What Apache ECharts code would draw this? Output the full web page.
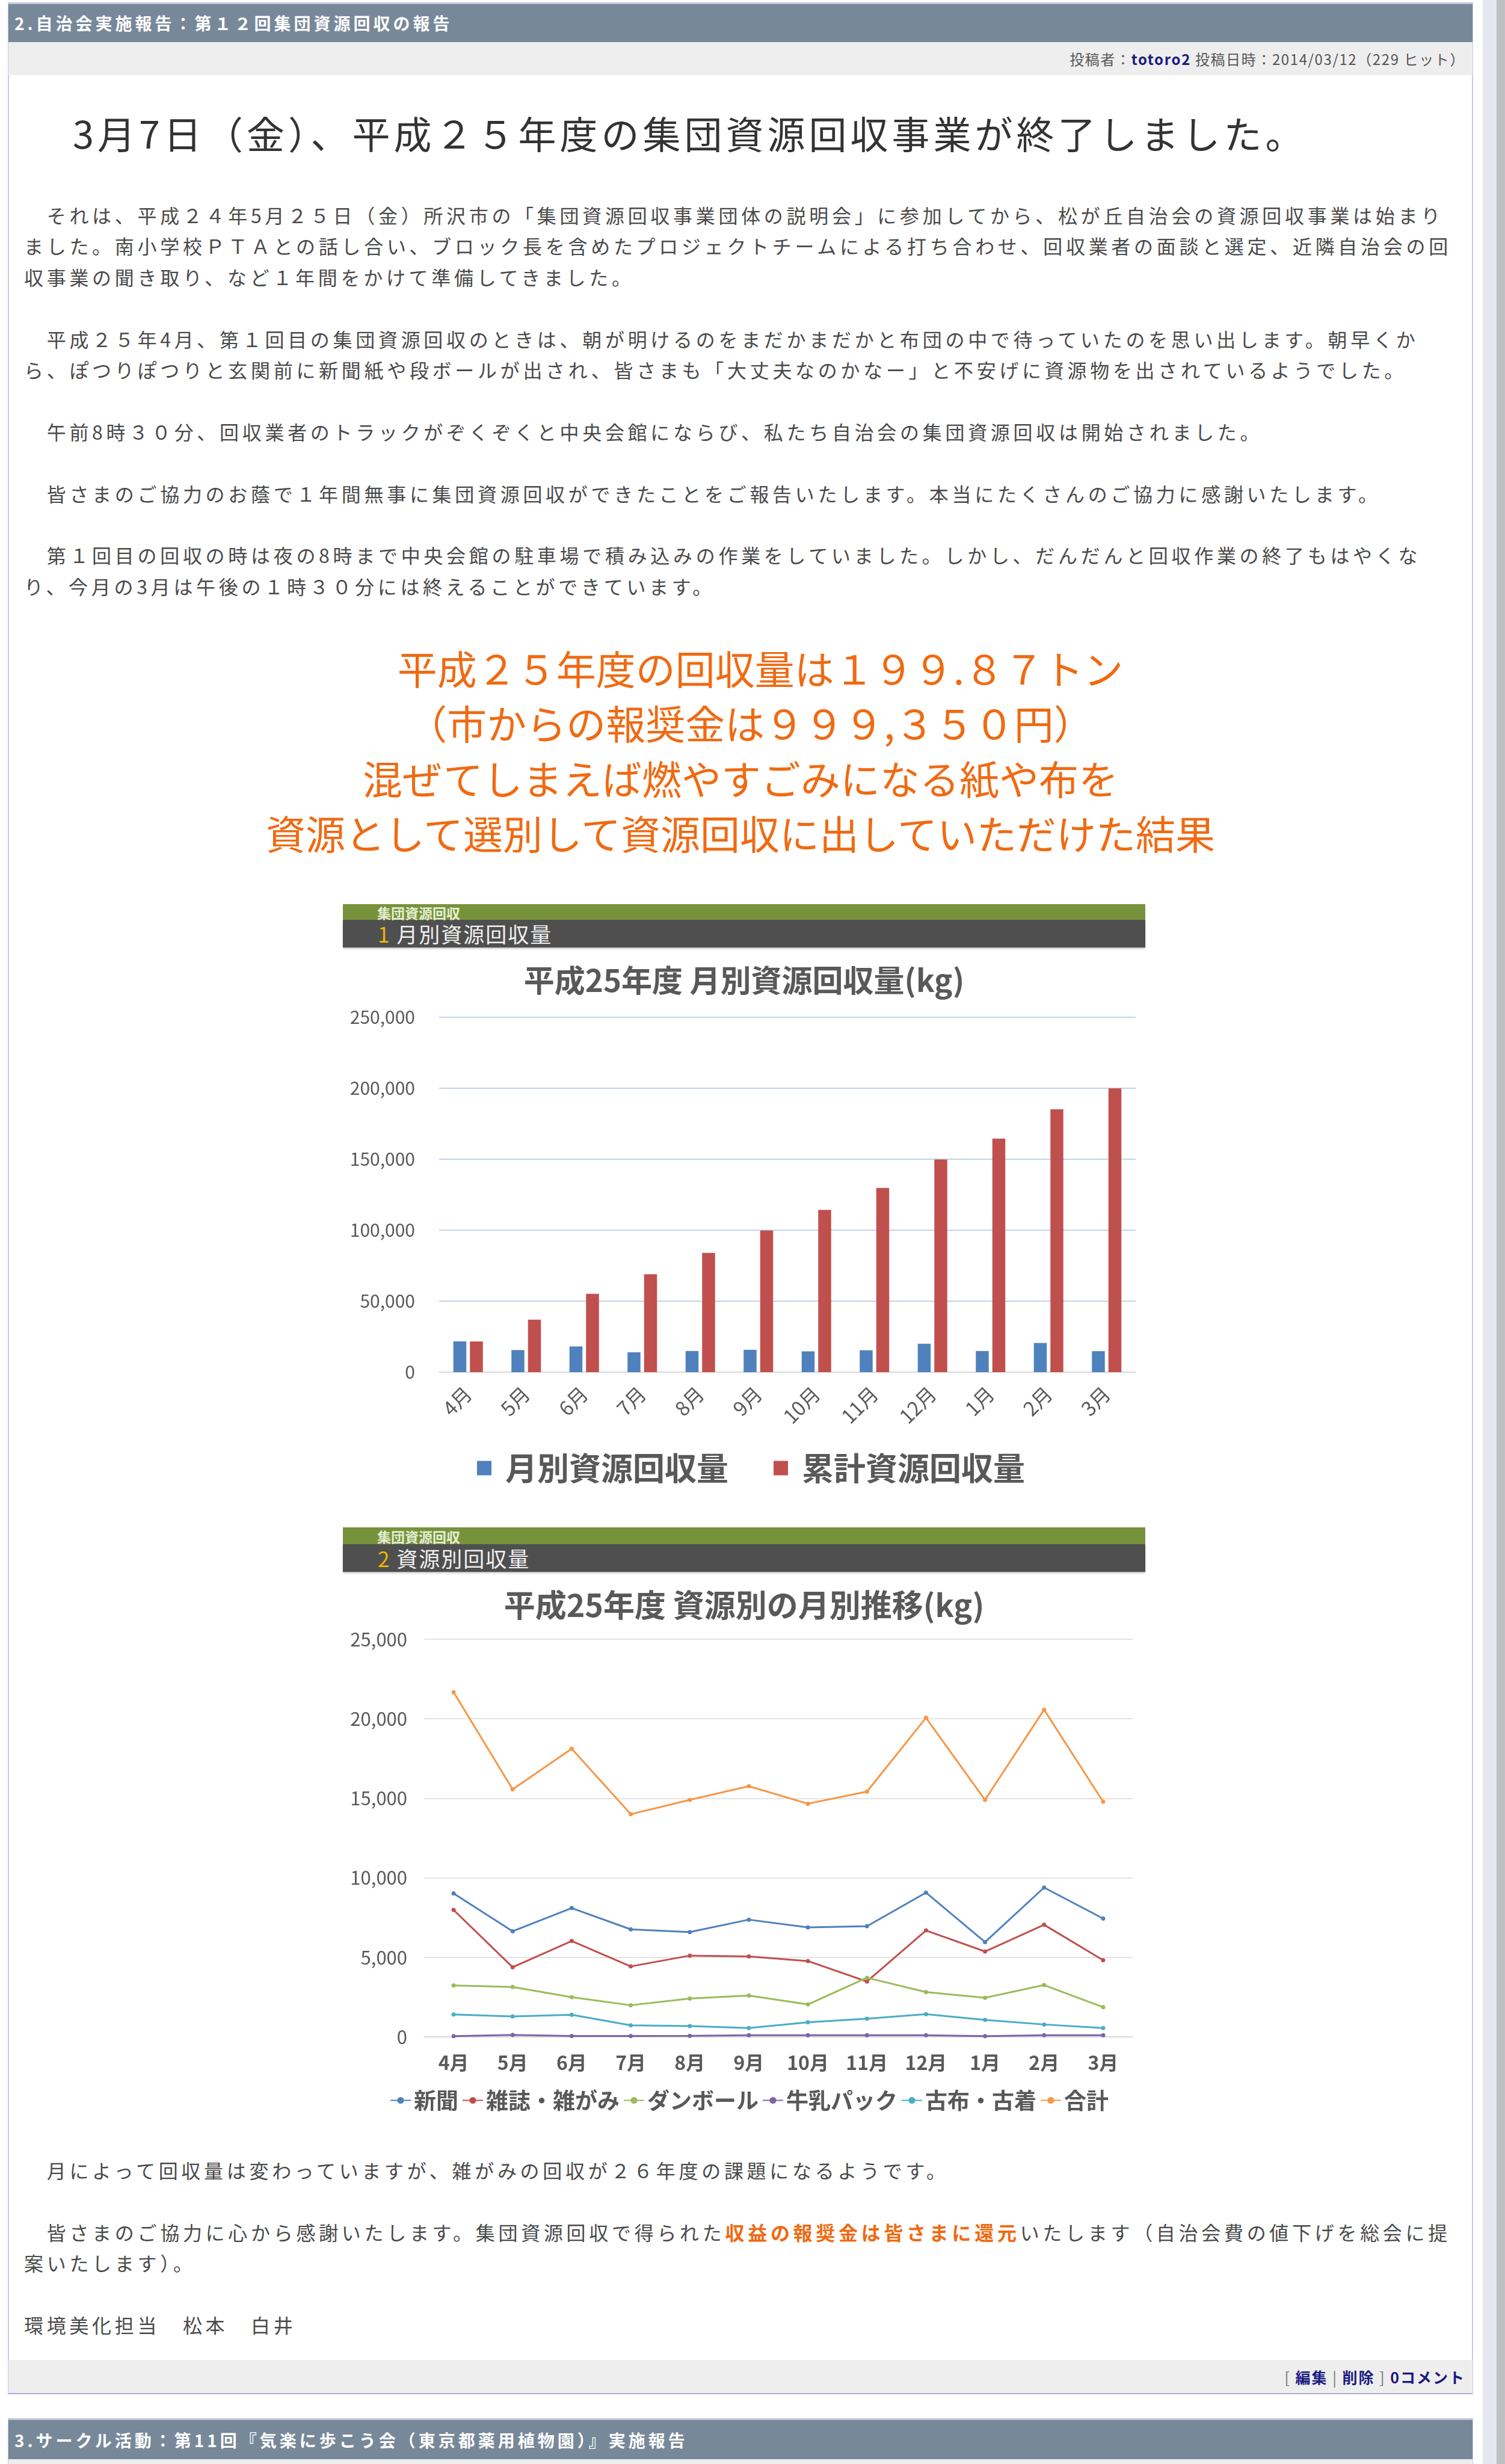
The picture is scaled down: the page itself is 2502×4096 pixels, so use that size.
<!DOCTYPE html>
<html lang="ja">
<head>
<meta charset="utf-8">
<title>第１２回集団資源回収の報告</title>
<script src="https://cdn.jsdelivr.net/npm/echarts@6/dist/echarts.min.js"></script>
<style>
html, body { margin: 0; padding: 0; background: #fff; }
body { width: 2502px; height: 4096px; position: relative; overflow: hidden; font-family: "Noto Sans CJK JP", sans-serif; }
.abs { position: absolute; }
.hdr { position: absolute; left: 14px; width: 2434px; background: #778899; border-top: 3px solid #bfc3de; color: #fff; font-weight: bold; font-size: 28px; letter-spacing: 5px; box-sizing: border-box; padding-left: 10px; white-space: nowrap; }
.row { position: absolute; left: 14px; width: 2434px; background: #eeeeee; box-sizing: border-box; text-align: right; padding-right: 12px; white-space: nowrap; }
.side { position: absolute; width: 2px; background: #c8c8e6; }
.txt { position: absolute; left: 40px; font-size: 32px; letter-spacing: 5.7px; color: #4a4a4a; }
.txt div { height: 51.4px; line-height: 51.4px; white-space: nowrap; }
.big { position: absolute; left: 14px; width: 2434px; text-align: center; font-size: 66px; line-height: 91.3px; color: #f06a12; }
.big div { white-space: nowrap; }
.chartbox { position: absolute; left: 570px; width: 1334px; background: #fff; }
.bandg { position: absolute; left: 0; top: 0; width: 1334px; background: #76933c; }
.bandd { position: absolute; left: 0; width: 1334px; background: #4f4f4f; box-shadow: 0 2px 3px rgba(0,0,0,0.25); }
.bandsmall { position: absolute; left: 57px; font-size: 23px; font-weight: bold; color: #e4eed2; white-space: nowrap; }
.bandbig { position: absolute; left: 58px; font-size: 35px; color: #f0f0f0; letter-spacing: 2px; white-space: nowrap; }
.bandbig span { color: #f2b400; }
</style>
</head>
<body>

<div class="abs" style="left:2465px;top:0;width:37px;height:4096px;background:#e6e6ee;"></div>
<div class="abs" style="left:2488px;top:0;width:14px;height:4096px;background:#c0c0c4;"></div>

<div class="side" style="left:13px;top:4px;height:3976px;"></div>
<div class="side" style="left:2447px;top:4px;height:3976px;"></div>

<div class="hdr" style="top:4px;height:66px;line-height:63px;">2.自治会実施報告：第１２回集団資源回収の報告</div>
<div class="row" style="top:70px;height:55px;line-height:55px;font-size:24px;letter-spacing:1.6px;color:#555;">投稿者：<b style="color:#1a1a80;">totoro2</b> 投稿日時：2014/03/12（229 ヒット）</div>

<div class="abs" style="left:121px;top:180px;font-size:63px;letter-spacing:6px;line-height:80px;color:#333;white-space:nowrap;">3月7日（金）、平成２５年度の集団資源回収事業が終了しました。</div>

<div class="txt" style="top:332px;">
<div>　それは、平成２４年5月２５日（金）所沢市の「集団資源回収事業団体の説明会」に参加してから、松が丘自治会の資源回収事業は始まり</div>
<div>ました。南小学校ＰＴＡとの話し合い、ブロック長を含めたプロジェクトチームによる打ち合わせ、回収業者の面談と選定、近隣自治会の回</div>
<div>収事業の聞き取り、など１年間をかけて準備してきました。</div>
<div></div>
<div>　平成２５年4月、第１回目の集団資源回収のときは、朝が明けるのをまだかまだかと布団の中で待っていたのを思い出します。朝早くか</div>
<div>ら、ぽつりぽつりと玄関前に新聞紙や段ボールが出され、皆さまも「大丈夫なのかなー」と不安げに資源物を出されているようでした。</div>
<div></div>
<div>　午前8時３０分、回収業者のトラックがぞくぞくと中央会館にならび、私たち自治会の集団資源回収は開始されました。</div>
<div></div>
<div>　皆さまのご協力のお蔭で１年間無事に集団資源回収ができたことをご報告いたします。本当にたくさんのご協力に感謝いたします。</div>
<div></div>
<div>　第１回目の回収の時は夜の8時まで中央会館の駐車場で積み込みの作業をしていました。しかし、だんだんと回収作業の終了もはやくな</div>
<div>り、今月の3月は午後の１時３０分には終えることができています。</div>
</div>

<div class="big" style="top:1064px;">
<div>　平成２５年度の回収量は１９９.８７トン</div>
<div>　（市からの報奨金は９９９,３５０円）</div>
<div>混ぜてしまえば燃やすごみになる紙や布を</div>
<div>資源として選別して資源回収に出していただけた結果</div>
</div>

<div class="chartbox" style="top:1503px;height:984px;">
  <div class="bandg" style="height:26px;"></div>
  <div class="bandd" style="top:26px;height:46px;"></div>
  <div class="bandsmall" style="top:0;line-height:28px;">集団資源回収</div>
  <div class="bandbig" style="top:26px;line-height:46px;"><span>1</span> 月別資源回収量</div>
  <div id="chart1" class="abs" style="left:0;top:72px;width:1334px;height:912px;"></div>
</div>

<div class="chartbox" style="top:2539px;height:979px;">
  <div class="bandg" style="height:28px;"></div>
  <div class="bandd" style="top:28px;height:46px;"></div>
  <div class="bandsmall" style="top:0;line-height:30px;">集団資源回収</div>
  <div class="bandbig" style="top:28px;line-height:46px;"><span>2</span> 資源別回収量</div>
  <div id="chart2" class="abs" style="left:0;top:74px;width:1334px;height:905px;"></div>
</div>

<div class="txt" style="top:3582px;">
<div>　月によって回収量は変わっていますが、雑がみの回収が２６年度の課題になるようです。</div>
<div></div>
<div>　皆さまのご協力に心から感謝いたします。集団資源回収で得られた<b style="color:#f06a12;">収益の報奨金は皆さまに還元</b>いたします（自治会費の値下げを総会に提</div>
<div>案いたします）。</div>
<div></div>
<div>環境美化担当　松本　白井</div>
</div>

<div class="row" style="top:3923px;height:57px;line-height:57px;font-size:25px;letter-spacing:2px;color:#777;border-bottom:2px solid #a9abd6;">[ <b style="color:#1a1a80;">編集</b> | <b style="color:#1a1a80;">削除</b> ] <b style="color:#1a1a80;">0コメント</b></div>

<div class="side" style="left:13px;top:4020px;height:76px;"></div>
<div class="side" style="left:2447px;top:4020px;height:76px;"></div>
<div class="hdr" style="top:4020px;height:68px;line-height:66px;">3.サークル活動：第11回『気楽に歩こう会（東京都薬用植物園）』実施報告</div>
<div class="row" style="top:4088px;height:8px;"></div>

<script>
// 月
const months = ['4月', '5月', '6月', '7月', '8月', '9月', '10月', '11月', '12月', '1月', '2月', '3月'];

// グラフ1 月別・累計 (kg)
const barNames = ['月別資源回収量', '累計資源回収量'];
const monthlyKg = [21670, 15560, 18120, 14000, 14900, 15760, 14660, 15420, 20060, 14900, 20570, 14790];
const cumulativeKg = [21600, 37000, 55200, 69000, 84000, 99800, 114300, 129800, 149800, 164500, 185200, 199870];

// グラフ2 資源別 (kg)
const lineNames = ['新聞', '雑誌・雑がみ', 'ダンボール', '牛乳パック', '古布・古着', '合計'];
const newspaperKg = [9020, 6640, 8100, 6760, 6590, 7370, 6880, 6960, 9070, 5960, 9390, 7440];
const magazineKg = [7980, 4380, 6030, 4430, 5110, 5060, 4770, 3480, 6690, 5370, 7050, 4820];
const cardboardKg = [3230, 3140, 2500, 1990, 2410, 2600, 2040, 3720, 2820, 2460, 3260, 1870];
const milkPackKg = [50, 120, 60, 60, 70, 100, 100, 100, 100, 50, 100, 100];
const clothKg = [1410, 1290, 1390, 730, 680, 560, 920, 1140, 1430, 1070, 780, 560];
const totalKg = [21670, 15560, 18120, 14000, 14900, 15760, 14660, 15420, 20060, 14900, 20570, 14790];

const lineColors = ['#4f81bd', '#c0504d', '#9bbb59', '#8064a2', '#4bacc6', '#f79646'];
const font = 'Noto Sans CJK JP';
const gray = '#595959';
const commas = v => String(v).replace(/\B(?=(\d{3})+(?!\d))/g, ',');

const chart1 = echarts.init(document.getElementById('chart1'));
chart1.setOption({
    animation: false,
    textStyle: { fontFamily: font },
    title: {
        text: '平成25年度 月別資源回収量(kg)',
        left: 'center',
        top: 24,
        textStyle: { fontSize: 51, fontWeight: 'bold', color: gray, fontFamily: font }
    },
    legend: {
        data: barNames,
        left: 218,
        top: 834,
        icon: 'rect',
        itemWidth: 24,
        itemHeight: 24,
        itemGap: 75,
        textStyle: { fontSize: 53, fontWeight: 'bold', color: gray, padding: [0, 0, 0, 18] }
    },
    grid: { left: 160, right: 16, top: 116, height: 590 },
    xAxis: {
        type: 'category',
        data: months,
        axisTick: { show: false },
        axisLine: { lineStyle: { color: '#d9d9d9', width: 2 } },
        axisLabel: { rotate: 45, fontSize: 33, color: gray, margin: 30 }
    },
    yAxis: {
        type: 'value',
        min: 0,
        max: 250000,
        interval: 50000,
        axisLine: { show: false },
        axisTick: { show: false },
        axisLabel: { fontSize: 30, color: gray, margin: 40, formatter: commas },
        splitLine: { lineStyle: { color: '#c4d3e6', width: 2 } }
    },
    series: [
        { name: barNames[0], type: 'bar', data: monthlyKg, barWidth: 21.5, barGap: '28%', itemStyle: { color: '#4f81bd' } },
        { name: barNames[1], type: 'bar', data: cumulativeKg, barWidth: 21.5, itemStyle: { color: '#c0504d' } }
    ]
});

const lineData = [newspaperKg, magazineKg, cardboardKg, milkPackKg, clothKg, totalKg];

const chart2 = echarts.init(document.getElementById('chart2'));
chart2.setOption({
    animation: false,
    textStyle: { fontFamily: font },
    title: {
        text: '平成25年度 資源別の月別推移(kg)',
        left: 'center',
        top: 24,
        textStyle: { fontSize: 52, fontWeight: 'bold', color: gray, fontFamily: font }
    },
    legend: {
        data: lineNames,
        left: 73,
        top: 855,
        itemWidth: 34,
        itemHeight: 14,
        itemGap: 6,
        textStyle: { fontSize: 37, fontWeight: 'bold', color: gray }
    },
    grid: { left: 135, right: 21, top: 112, height: 661 },
    xAxis: {
        type: 'category',
        data: months,
        axisTick: { show: false },
        axisLine: { lineStyle: { color: '#d9d9d9', width: 2 } },
        axisLabel: { fontSize: 32, fontWeight: 'bold', color: gray, margin: 27 }
    },
    yAxis: {
        type: 'value',
        min: 0,
        max: 25000,
        interval: 5000,
        axisLine: { show: false },
        axisTick: { show: false },
        axisLabel: { fontSize: 31, color: gray, margin: 28, formatter: commas },
        splitLine: { lineStyle: { color: '#e4e4e4', width: 2 } }
    },
    series: lineNames.map((name, i) => ({
        name: name,
        type: 'line',
        data: lineData[i],
        symbol: 'circle',
        symbolSize: 7,
        lineStyle: { width: 3, color: lineColors[i] },
        itemStyle: { color: lineColors[i] }
    }))
});
</script>
</body>
</html>
